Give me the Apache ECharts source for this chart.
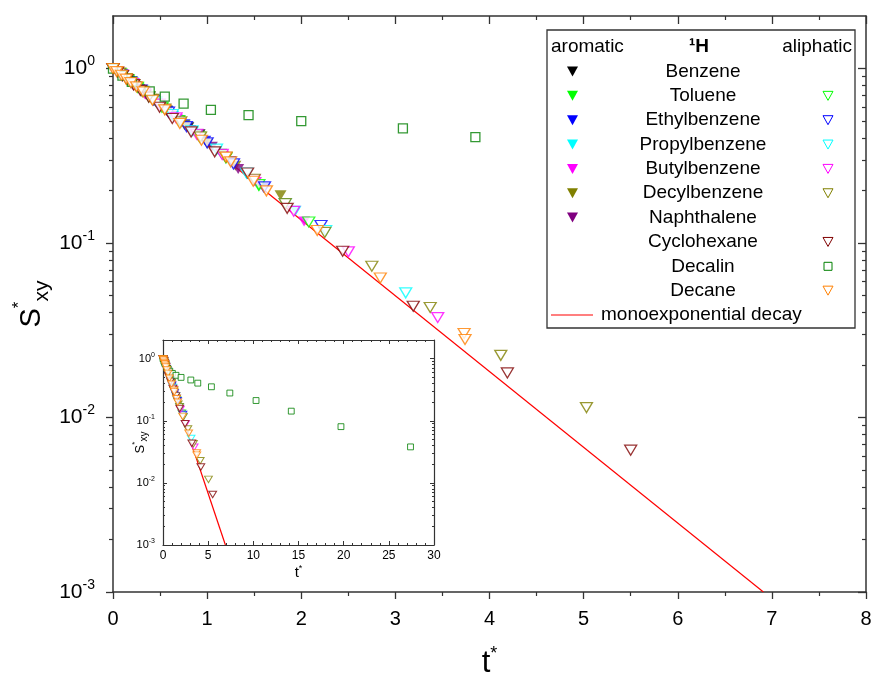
<!DOCTYPE html>
<html><head><meta charset="utf-8">
<script src="https://cdn.jsdelivr.net/npm/echarts@6/dist/echarts.min.js"></script>
<style>html,body{margin:0;padding:0;background:#fff}#c{width:873px;height:676px}</style>
</head><body><div id="c"></div>
<script>
// ---- data: [t*, S*xy] ----
const benzeneAro = [[0,1],[0.07,0.94],[0.15,0.87],[0.24,0.795],[0.34,0.72],[0.45,0.645],[0.57,0.575],[0.7,0.505],[0.8,0.46],[0.92,0.42]];
const tolueneAro = [[0,1],[0.08,0.93],[0.17,0.85],[0.27,0.77],[0.39,0.685],[0.53,0.595],[0.7,0.505],[0.9,0.415],[1.15,0.325],[1.55,0.21]];
const ethylAro = [[0,1],[0.09,0.92],[0.19,0.835],[0.3,0.75],[0.43,0.66],[0.58,0.57],[0.76,0.48],[0.98,0.385],[1.25,0.295],[1.6,0.207]];
const propylAro = [[0,1],[0.1,0.91],[0.21,0.82],[0.33,0.728],[0.47,0.632],[0.64,0.535],[0.85,0.435],[1.1,0.338],[1.42,0.247],[1.94,0.153]];
const butylAro = [[0,1],[0.1,0.912],[0.22,0.81],[0.35,0.71],[0.5,0.612],[0.68,0.512],[0.9,0.412],[1.17,0.316],[1.52,0.224],[2.03,0.133]];
const decylAro = [[0,1],[0.08,0.93],[0.17,0.852],[0.28,0.762],[0.41,0.672],[0.57,0.572],[0.76,0.473],[1.0,0.372],[1.3,0.277],[1.78,0.188]];
const naphthaleneAro = [[0,1],[0.07,0.937],[0.15,0.866],[0.24,0.79],[0.35,0.71],[0.48,0.625],[0.63,0.537],[0.82,0.445],[1.05,0.356],[1.33,0.266]];

const tolueneAli = [[0,1],[0.08,0.932],[0.16,0.86],[0.26,0.78],[0.38,0.69],[0.52,0.6],[0.7,0.502],[0.92,0.405],[1.2,0.307],[1.55,0.216],[2.08,0.132]];
const ethylAli = [[0,1],[0.09,0.92],[0.19,0.838],[0.3,0.752],[0.43,0.66],[0.59,0.562],[0.78,0.465],[1.0,0.375],[1.28,0.284],[1.61,0.21],[2.21,0.126]];
const propylAli = [[0,1],[0.1,0.912],[0.2,0.83],[0.32,0.74],[0.46,0.645],[0.63,0.545],[0.84,0.44],[1.1,0.345],[1.42,0.252],[1.83,0.168],[2.26,0.118],[3.11,0.0518]];
const butylAli = [[0,1],[0.1,0.915],[0.21,0.82],[0.34,0.725],[0.49,0.625],[0.67,0.522],[0.89,0.42],[1.16,0.322],[1.5,0.23],[1.92,0.152],[2.5,0.089],[3.45,0.0374]];
const decylAli = [[0,1],[0.07,0.94],[0.14,0.875],[0.22,0.81],[0.31,0.74],[0.42,0.665],[0.55,0.585],[0.72,0.495],[0.93,0.405],[1.2,0.31],[1.5,0.232],[1.83,0.168],[2.25,0.115],[2.75,0.0736],[3.37,0.0427],[4.12,0.0227],[5.03,0.0114]];
const cyclohexaneAli = [[0,1],[0.05,0.955],[0.1,0.91],[0.15,0.865],[0.22,0.805],[0.29,0.75],[0.38,0.685],[0.495,0.6],[0.63,0.517],[0.83,0.433],[1.08,0.333],[1.43,0.252],[1.85,0.158],[2.44,0.0897],[3.19,0.0434],[4.19,0.018],[5.5,0.0065]];
const decalinAli = [[0,1],[0.1,0.91],[0.2,0.84],[0.39,0.74],[0.55,0.69],[0.75,0.63],[1.04,0.58],[1.44,0.54],[2.0,0.5],[3.08,0.454],[3.85,0.404],[5.36,0.353],[7.4,0.28],[10.3,0.212],[14.2,0.143],[19.7,0.0805],[27.4,0.038]];
const decaneAli = [[0,1],[0.04,0.96],[0.09,0.915],[0.14,0.87],[0.19,0.83],[0.25,0.785],[0.32,0.734],[0.42,0.658],[0.55,0.58],[0.71,0.484],[0.94,0.388],[1.2,0.311],[1.25,0.292],[1.49,0.226],[1.63,0.199],[2.17,0.118],[2.84,0.063],[3.73,0.0303],[3.74,0.028]];
const monoDecay = [[0,1],[6.91,0.001]];

const yMajor = [0.001, 0.01, 0.1, 1];
const yMinor = [0.002,0.003,0.004,0.005,0.006,0.007,0.008,0.009,0.02,0.03,0.04,0.05,0.06,0.07,0.08,0.09,0.2,0.3,0.4,0.5,0.6,0.7,0.8,0.9];

const legendNames = ['Benzene','Toluene','Ethylbenzene','Propylbenzene','Butylbenzene','Decylbenzene','Naphthalene','Cyclohexane','Decalin','Decane'];
const colors = {Benzene:'#000000',Toluene:'#00ff00',Ethylbenzene:'#0000ff',Propylbenzene:'#00ffff',Butylbenzene:'#ff00ff',Decylbenzene:'#808000',Naphthalene:'#800080',Cyclohexane:'#800000',Decalin:'#008000',Decane:'#ff8000'};
const aromatic = {Benzene:benzeneAro,Toluene:tolueneAro,Ethylbenzene:ethylAro,Propylbenzene:propylAro,Butylbenzene:butylAro,Decylbenzene:decylAro,Naphthalene:naphthaleneAro};
const aliphatic = {Toluene:tolueneAli,Ethylbenzene:ethylAli,Propylbenzene:propylAli,Butylbenzene:butylAli,Decylbenzene:decylAli,Cyclohexane:cyclohexaneAli,Decalin:decalinAli,Decane:decaneAli};

const FONT = '"Liberation Sans", Arial, sans-serif';
const AX = '#333';

function powLabel(v){
  const e = Math.round(Math.log10(v));
  return '{b|10}{s|' + e + '}';
}

const mainGrid = {left:113, top:16, right:7, bottom:84, outerBoundsMode:'none', containLabel:false};
const insetGrid = {left:163, top:340, right:439, bottom:131, outerBoundsMode:'none', containLabel:false};

function yLog(grid, extra){ return Object.assign({type:'log', logBase:10, min:0.001, max:2, gridIndex:grid, splitLine:{show:false}, nameMoveOverlap:false}, extra); }

const xAxes = [
  {gridIndex:0, type:'value', min:0, max:8, interval:1, position:'bottom', nameMoveOverlap:false,
   axisLine:{onZero:false, lineStyle:{color:AX,width:1.5}}, axisTick:{length:7, lineStyle:{color:AX,width:1.3}},
   minorTick:{show:true, splitNumber:2, length:4, lineStyle:{color:AX,width:1.2}},
   axisLabel:{fontSize:20, color:'#000', margin:17, fontFamily:FONT}, splitLine:{show:false},
   name:'{m|t}{sup|*}', nameLocation:'middle', nameGap:53,
   nameTextStyle:{rich:{m:{fontSize:31, lineHeight:36, color:'#000', fontFamily:FONT}, sup:{fontSize:18, lineHeight:18, verticalAlign:'top', color:'#000', fontFamily:FONT}}}},
  {gridIndex:0, type:'value', min:0, max:8, interval:1, position:'top',
   axisLine:{onZero:false, lineStyle:{color:AX,width:1.5}}, axisTick:{inside:true, length:8, lineStyle:{color:AX,width:1.3}},
   minorTick:{show:true, splitNumber:2, length:4, lineStyle:{color:AX,width:1.2}},
   axisLabel:{show:false}, splitLine:{show:false}},
  {gridIndex:1, type:'value', min:0, max:8, show:false, axisLine:{onZero:false}},
  {gridIndex:2, type:'value', min:0, max:30, interval:5, position:'bottom', nameMoveOverlap:false,
   axisLine:{onZero:false, lineStyle:{color:AX,width:1.2}}, axisTick:{inside:true, length:4, lineStyle:{color:AX,width:1}},
   minorTick:{show:true, splitNumber:5, length:2, lineStyle:{color:AX,width:1}},
   axisLabel:{fontSize:12, color:'#000', margin:5, fontFamily:FONT}, splitLine:{show:false},
   name:'{m|t}{sup|*}', nameLocation:'middle', nameGap:19,
   nameTextStyle:{rich:{m:{fontSize:15, lineHeight:18, color:'#000', fontFamily:FONT}, sup:{fontSize:9, lineHeight:9, verticalAlign:'top', color:'#000', fontFamily:FONT}}}},
  {gridIndex:2, type:'value', min:0, max:30, interval:5, position:'top',
   axisLine:{onZero:false, lineStyle:{color:AX,width:1.2}}, axisTick:{inside:true, length:4, lineStyle:{color:AX,width:1}},
   minorTick:{show:true, splitNumber:5, length:2, lineStyle:{color:AX,width:1}},
   axisLabel:{show:false}, splitLine:{show:false}},
  {gridIndex:3, type:'value', min:0, max:30, show:false, axisLine:{onZero:false}}
];

const yAxes = [
  yLog(0, {position:'left', axisLine:{onZero:false, lineStyle:{color:AX,width:1.5}},
    axisTick:{length:7, customValues:yMajor, lineStyle:{color:AX,width:1.3}},
    axisLabel:{customValues:yMajor, formatter:powLabel, margin:18,
      rich:{b:{fontSize:21, lineHeight:28, color:'#000', fontFamily:FONT}, s:{fontSize:14, lineHeight:14, verticalAlign:'top', color:'#000', fontFamily:FONT}}},
    name:'{m|S}{sup|*}{sub|xy}', nameLocation:'middle', nameGap:60,
    nameTextStyle:{rich:{m:{fontSize:29, lineHeight:42, color:'#000', fontFamily:FONT}, sup:{fontSize:17, lineHeight:18, verticalAlign:'top', color:'#000', fontFamily:FONT}, sub:{fontSize:21, lineHeight:20, verticalAlign:'bottom', color:'#000', fontFamily:FONT}}}}),
  yLog(0, {position:'right', axisLine:{onZero:false, lineStyle:{color:AX,width:1.5}},
    axisTick:{inside:true, length:8, customValues:yMajor, lineStyle:{color:AX,width:1.3}}, axisLabel:{show:false}}),
  yLog(1, {position:'left', axisLine:{show:false, onZero:false},
    axisTick:{length:4, customValues:yMinor, lineStyle:{color:AX,width:1.2}}, axisLabel:{show:false}}),
  yLog(1, {position:'right', axisLine:{show:false, onZero:false},
    axisTick:{inside:true, length:4, customValues:yMinor, lineStyle:{color:AX,width:1.2}}, axisLabel:{show:false}}),
  yLog(2, {position:'left', axisLine:{onZero:false, lineStyle:{color:AX,width:1.2}},
    axisTick:{inside:true, length:4, customValues:yMajor, lineStyle:{color:AX,width:1}},
    axisLabel:{customValues:yMajor, formatter:powLabel, margin:8,
      rich:{b:{fontSize:11, lineHeight:14, color:'#000', fontFamily:FONT}, s:{fontSize:7, lineHeight:7, verticalAlign:'top', color:'#000', fontFamily:FONT}}},
    name:'{m|S}{sup|*}{sub|xy}', nameLocation:'middle', nameGap:14,
    nameTextStyle:{rich:{m:{fontSize:13, lineHeight:18, color:'#000', fontFamily:FONT}, sup:{fontSize:8, lineHeight:8, verticalAlign:'top', color:'#000', fontFamily:FONT}, sub:{fontSize:10, lineHeight:9, verticalAlign:'bottom', color:'#000', fontFamily:FONT}}}}),
  yLog(2, {position:'right', axisLine:{onZero:false, lineStyle:{color:AX,width:1.2}},
    axisTick:{inside:true, length:4, customValues:yMajor, lineStyle:{color:AX,width:1}}, axisLabel:{show:false}}),
  yLog(3, {position:'left', axisLine:{show:false, onZero:false},
    axisTick:{inside:true, length:2, customValues:yMinor, lineStyle:{color:AX,width:1}}, axisLabel:{show:false}}),
  yLog(3, {position:'right', axisLine:{show:false, onZero:false},
    axisTick:{inside:true, length:2, customValues:yMinor, lineStyle:{color:AX,width:1}}, axisLabel:{show:false}})
];

const series = [];
function lineSeries(xi, yi){
  return {type:'line', name:'monoexponential decay', data:monoDecay, xAxisIndex:xi, yAxisIndex:yi,
    showSymbol:false, symbol:'none', lineStyle:{color:'#ff0000', width:1.2}, silent:true, z:1};
}
function addAll(xi, yi, scale){
  series.push(lineSeries(xi, yi));
  const tri = [12*scale, 10*scale];
  Object.keys(aromatic).forEach(k => {
    series.push({type:'scatter', name:k+' aromatic', data:aromatic[k], xAxisIndex:xi, yAxisIndex:yi,
      symbol:'triangle', symbolRotate:180, symbolSize:tri, itemStyle:{color:colors[k]}, silent:true, z:2});
  });
  Object.keys(aliphatic).forEach(k => {
    const sq = k === 'Decalin';
    series.push({type:'scatter', name:k+' aliphatic', data:aliphatic[k], xAxisIndex:xi, yAxisIndex:yi,
      symbol: sq ? 'rect' : 'triangle', symbolRotate: sq ? 0 : 180,
      symbolSize: sq ? 9*scale : tri,
      itemStyle:{color:'#ffffff', borderColor:colors[k], borderWidth: scale<1 ? 1 : 1.3}, silent:true, z:3});
  });
}
addAll(0, 0, 1);
addAll(3, 4, 0.65);

// ---- legend drawn as graphic ----
const g = [];
const LX = 547, LY = 30, LW = 308, LH = 298;
g.push({type:'rect', shape:{x:LX, y:LY, width:LW, height:LH}, style:{fill:'#fff', stroke:AX, lineWidth:1.3}, z:100});
const lf = '19px ' + FONT;
function txt(t, x, y, align, font){ return {type:'text', z:101, style:{text:t, x:x, y:y, font:font||lf, fill:'#000', textAlign:align, textVerticalAlign:'middle', align:align, verticalAlign:'middle'}}; }
g.push(txt('aromatic', 551, 47, 'left'));
g.push(txt('\u00b9H', 699, 47, 'center', 'bold 19px ' + FONT));
g.push(txt('aliphatic', 852, 47, 'right'));
function downTri(cx, cy, w, h){ return [[cx-w/2, cy-h/2],[cx+w/2, cy-h/2],[cx, cy+h/2]]; }
legendNames.forEach((n, i) => {
  const y = 71.5 + i*24.35;
  g.push(txt(n, 703, y, 'center'));
  if (aromatic[n]) g.push({type:'polygon', z:101, shape:{points:downTri(572.5, y, 11, 10)}, style:{fill:colors[n]}});
  if (aliphatic[n]) {
    if (n === 'Decalin') g.push({type:'rect', z:101, shape:{x:824, y:y-4, width:8, height:8}, style:{fill:'#fff', stroke:colors[n], lineWidth:1}});
    else g.push({type:'polygon', z:101, shape:{points:downTri(828, y, 10, 9)}, style:{fill:'#fff', stroke:colors[n], lineWidth:1}});
  }
});
const monoY = 71.5 + 10*24.35;
g.push({type:'line', z:101, shape:{x1:551, y1:monoY, x2:593, y2:monoY}, style:{stroke:'#ff0000', lineWidth:1.2}});
g.push(txt('monoexponential decay', 601, monoY, 'left'));

const chart = echarts.init(document.getElementById('c'), null, {renderer:'canvas'});
chart.setOption({
  animation:false,
  backgroundColor:'#fff',
  textStyle:{fontFamily:FONT},
  grid:[Object.assign({}, mainGrid), Object.assign({}, mainGrid), Object.assign({}, insetGrid), Object.assign({}, insetGrid)],
  xAxis:xAxes,
  yAxis:yAxes,
  series:series,
  graphic:g
});
</script>
</body></html>
